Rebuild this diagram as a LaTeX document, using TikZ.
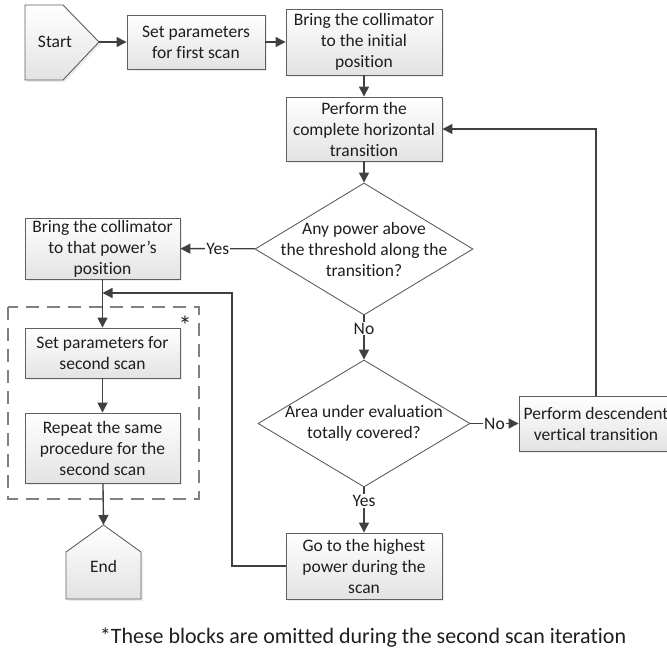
\documentclass[tikz,border=0pt]{standalone}
\usepackage{fontspec}
\setmainfont{Carlito}[Ligatures=NoCommon]
\usetikzlibrary{shapes.geometric,arrows.meta,shadows}
\definecolor{linegray}{HTML}{404040}
\definecolor{boxgray}{HTML}{5F5F5F}
\definecolor{txtgray}{HTML}{1E1E1E}
\tikzset{
  every node/.style={text=txtgray, font=\fontsize{17.5}{21}\selectfont},
  shade/.style={top color=white, bottom color=gray!22,
    drop shadow={shadow xshift=2pt, shadow yshift=-2pt, fill=gray!30, opacity=0.5}},
  block/.style={draw=boxgray, line width=0.9pt, shade, align=center, inner sep=0pt},
  decision/.style={diamond, draw=boxgray, line width=0.9pt, fill=white, inner sep=0pt},
  terminal/.style={draw=boxgray, line width=0.9pt, shade},
  flow/.style={draw=linegray, line width=1.4pt, -{Triangle[length=10pt, width=10pt]}},
  lbl/.style={fill=white, inner sep=1pt},
  frame/.style={draw=gray, line width=1.2pt, dash pattern=on 13pt off 8pt}
}

\begin{document}
\begin{tikzpicture}[x=1pt,y=-1pt]
\useasboundingbox (0,0) rectangle (667,653);
\clip (0,0) rectangle (667,653);

% start and end terminals
\path[terminal] (25,5) -- (63,5) -- (99,42) -- (63,80) -- (25,80) -- cycle;
\node (start) at (55,42) {Start};
\coordinate (starttip) at (99,42);
\path[terminal] (66,599) -- (66,552) -- (103.5,525) -- (141,552) -- (141,599) -- cycle;
\node (end) at (103.5,566) {End};
\coordinate (endtip) at (103.5,525);

% first scan
\node[block, minimum width=138, minimum height=54] (setfirst) at (196,42) {Set parameters\\for first scan};
\node[block, minimum width=156, minimum height=66] (bringinit) at (364,42) {Bring the collimator\\to the initial\\position};
\node[block, minimum width=156, minimum height=64] (horiz) at (364,129) {Perform the\\complete horizontal\\transition};
\node[decision, minimum width=218, minimum height=132] (anypower) at (364,249) {};
\node[align=center] at (anypower) {Any power above\\the threshold along the\\transition?};
\node[decision, minimum width=212, minimum height=127] (covered) at (364,423.5) {};
\node[align=center] at (covered) {Area under evaluation\\totally covered?};
\node[block, minimum width=154, minimum height=55] (descend) at (596,423.5) {Perform descendent\\vertical transition};
\node[block, minimum width=156, minimum height=66] (highest) at (364,566) {Go to the highest\\power during the\\scan};

% second scan
\node[block, minimum width=155, minimum height=61] (bringpow) at (102.5,248.5) {Bring the collimator\\to that power's\\position};
\draw[frame] (8,307) rectangle (199,499);
\node[font=\fontsize{26}{26}\selectfont] (star) at (185,325) {*};
\node[block, minimum width=155, minimum height=50] (setsecond) at (102.5,353) {Set parameters for\\second scan};
\node[block, minimum width=155, minimum height=70] (repeat) at (102.5,448) {Repeat the same\\procedure for the\\second scan};

\coordinate (loopx) at (232,293);
\coordinate (merge) at (102.5,293);

\draw[flow] (starttip) -- (setfirst);
\draw[flow] (setfirst) -- (bringinit);
\draw[flow] (bringinit) -- (horiz);
\draw[flow] (horiz) -- (anypower);
\draw[flow] (anypower) -- node[lbl] {Yes} (bringpow);
\draw[flow] (anypower) -- node[lbl, pos=0.3] {No} (covered);
\draw[flow] (covered) -- node[lbl] {No} (descend);
\draw[flow] (covered) -- node[lbl, pos=0.3] {Yes} (highest);
\draw[flow] (descend.north) |- (horiz.east);
\draw[flow] (highest.west) -| (loopx) -- (merge);
\draw[flow] (bringpow) -- (setsecond);
\draw[flow] (setsecond) -- (repeat);
\draw[flow] (repeat) -- (endtip);

\node[font=\fontsize{22}{26}\selectfont] (note) at (363,638) {*These blocks are omitted during the second scan iteration};
\end{tikzpicture}
\end{document}
